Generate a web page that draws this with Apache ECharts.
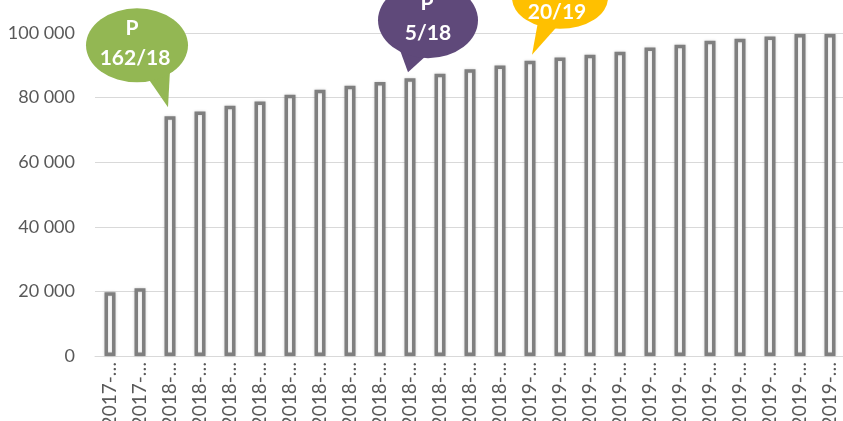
<!DOCTYPE html>
<html>
<head>
<meta charset="utf-8">
<script src="https://cdn.jsdelivr.net/npm/echarts@6/dist/echarts.min.js"></script>
<style>
html,body{margin:0;padding:0;background:#fff;overflow:hidden;}
#c{width:843px;height:421px;}
</style>
</head>
<body>
<div id="c"></div>
<script>
var categories = ["2017-11","2017-12","2018-01","2018-02","2018-03","2018-04","2018-05","2018-06","2018-07","2018-08","2018-09","2018-10","2018-11","2018-12","2019-01","2019-02","2019-03","2019-04","2019-05","2019-06","2019-07","2019-08","2019-09","2019-10","2019-11"];
var values = [19700,21000,74200,75700,77500,78800,80900,82400,83700,84800,86000,87400,88800,89900,91400,92400,93300,94200,95500,96400,97600,98200,98900,99700,99700];
var yTicks = [0,20000,40000,60000,80000,100000];
var calloutIndex = [2,10,14];
var calloutTop = ["P","P","P"];
var calloutBottom = ["162/18","5/18","20/19"];
var calloutColor = ["#93b753","#5f497a","#ffc000"];

var FONT = 'Lato, "Open Sans", sans-serif';
var chart = echarts.init(document.getElementById('c'), null, {renderer:'canvas'});
function fmt(v){ return String(v).replace(/\B(?=(\d{3})+(?!\d))/g,' '); }
chart.setOption({
  animation:false,
  grid:{left:95, top:33, width:750, bottom:65, containLabel:false, outerBoundsMode:'none'},
  xAxis:{
    type:'category', data:categories, boundaryGap:true,
    axisLine:{show:true, lineStyle:{color:'#d9d9d9', width:1}},
    axisTick:{show:false},
    axisLabel:{rotate:90, interval:0, margin:6, color:'#595959', fontSize:19, fontFamily:FONT,
      formatter:function(v){ return v.slice(0,5)+'\u2026'; }}
  },
  yAxis:{
    type:'value', min:yTicks[0], max:yTicks[yTicks.length-1], interval:yTicks[1]-yTicks[0],
    axisLine:{show:false}, axisTick:{show:false},
    splitLine:{lineStyle:{color:'#d9d9d9', width:1}},
    axisLabel:{color:'#595959', fontSize:18, fontFamily:FONT, margin:20, formatter:fmt}
  },
  series:[{
    type:'bar', data:values, barWidth:11,
    itemStyle:{color:'#ffffff', borderColor:'#7f7f7f', borderWidth:3.5,
      shadowColor:'rgba(0,0,0,0.18)', shadowBlur:3, shadowOffsetX:0, shadowOffsetY:0}
  }]
});

// callout shape geometry (pixel offsets relative to tail tip)
var geo = [
  {tip:[-2,-9], c:[-31,-62], rx:51, ry:37, t1:[-20,-29], t2:[2,-37], p:[-5,-17], n:[-2,13]},
  {tip:[-2,-6], c:[20,-52], rx:50, ry:38, t1:[-8,-22], t2:[22,-20], p:[-1,-17], n:[0,13]},
  {tip:[2,-6], c:[28,-57], rx:48, ry:31, t1:[6,-33], t2:[24,-27], p:[-3,-16], n:[-3,14]}
];
var els = [];
calloutIndex.forEach(function(idx, i){
  var pt = chart.convertToPixel({xAxisIndex:0, yAxisIndex:0}, [idx, values[idx]]);
  var g = geo[i];
  var tx = pt[0]+g.tip[0], ty = pt[1]+g.tip[1];
  var cx = tx+g.c[0], cy = ty+g.c[1];
  els.push({type:'polygon', z:100, shape:{points:[[tx+g.t1[0],ty+g.t1[1]],[tx+g.t2[0],ty+g.t2[1]],[tx,ty]]}, style:{fill:calloutColor[i]}});
  els.push({type:'circle', z:100, x:cx, y:cy, scaleY:g.ry/g.rx, shape:{cx:0, cy:0, r:g.rx}, style:{fill:calloutColor[i]}});
  els.push({type:'text', z:101, x:cx+g.p[0], y:cy+g.p[1], style:{text:calloutTop[i], fill:'#ffffff', font:'bold 21px '+FONT, align:'center', verticalAlign:'middle'}});
  els.push({type:'text', z:101, x:cx+g.n[0], y:cy+g.n[1], style:{text:calloutBottom[i], fill:'#ffffff', font:'bold 21px '+FONT, align:'center', verticalAlign:'middle'}});
});
chart.setOption({graphic:{elements:els}});
</script>
</body>
</html>
